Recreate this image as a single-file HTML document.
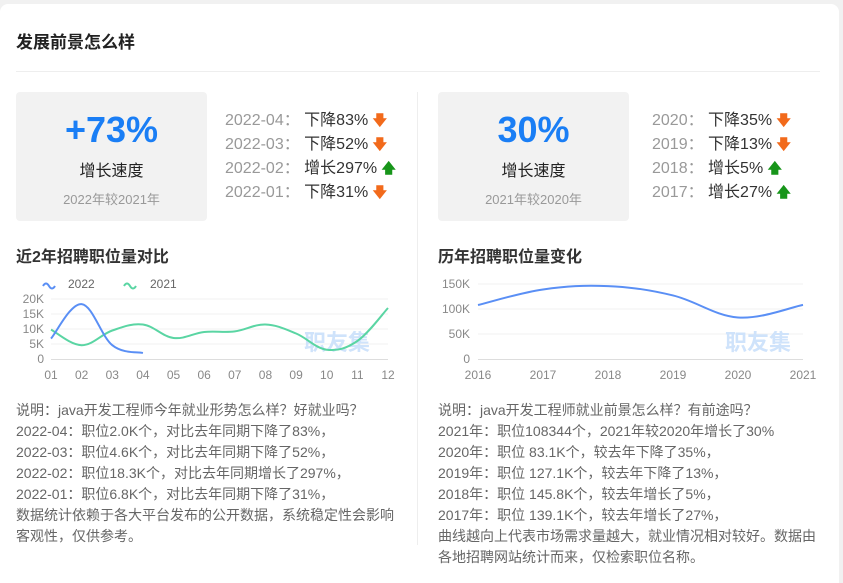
<!DOCTYPE html>
<html><head><meta charset="utf-8"><style>
*{margin:0;padding:0;box-sizing:border-box}
html,body{width:843px;height:583px;overflow:hidden}
body{background:#f1f1f1;font-family:"Liberation Sans","Noto Sans CJK SC",sans-serif;position:relative}
.card{position:absolute;left:0;top:4px;width:839px;height:579px;background:#fff;border-radius:8px 8px 0 0}
.a{position:absolute;white-space:nowrap}
.box{position:absolute;background:#f2f2f2;border-radius:4px;width:191px;height:129px;top:92px;text-align:center}
.big{position:absolute;left:0;right:0;top:18px;font-size:36px;font-weight:bold;color:#1a7ef5;line-height:40px}
.lbl{position:absolute;left:0;right:0;top:70px;font-size:16px;color:#222;line-height:20px}
.sub{position:absolute;left:0;right:0;top:100px;font-size:13px;color:#999;line-height:16px}
.li{position:absolute;font-size:16px;line-height:18px;color:#333;white-space:nowrap}
.li span{color:#999}
.dn{color:#f26a1b;font-weight:bold;font-size:14px}.up{color:#17951a;font-weight:bold;font-size:14px}
.h{position:absolute;font-size:16px;font-weight:bold;color:#333}
.desc{position:absolute;font-size:14px;color:#666;line-height:21px}
</style></head><body>
<div class="card"></div>
<div class="a" style="left:16px;top:28px;font-size:17px;font-weight:bold;color:#222">发展前景怎么样</div>
<div class="a" style="left:16px;top:71px;width:804px;height:1px;background:#eee"></div>
<div class="a" style="left:417px;top:92px;width:1px;height:453px;background:#eee"></div>

<div class="box" style="left:16px"><div class="big">+73%</div><div class="lbl">增长速度</div><div class="sub">2022年较2021年</div></div>
<div class="li" style="left:225px;top:111px"><span>2022-04： </span>下降83% <b class="dn">🡇</b></div>
<div class="li" style="left:225px;top:135px"><span>2022-03： </span>下降52% <b class="dn">🡇</b></div>
<div class="li" style="left:225px;top:159px"><span>2022-02： </span>增长297% <b class="up">🡅</b></div>
<div class="li" style="left:225px;top:183px"><span>2022-01： </span>下降31% <b class="dn">🡇</b></div>

<div class="box" style="left:438px"><div class="big">30%</div><div class="lbl">增长速度</div><div class="sub">2021年较2020年</div></div>
<div class="li" style="left:652px;top:111px"><span>2020： </span>下降35% <b class="dn">🡇</b></div>
<div class="li" style="left:652px;top:135px"><span>2019： </span>下降13% <b class="dn">🡇</b></div>
<div class="li" style="left:652px;top:159px"><span>2018： </span>增长5% <b class="up">🡅</b></div>
<div class="li" style="left:652px;top:183px"><span>2017： </span>增长27% <b class="up">🡅</b></div>

<div class="h" style="left:16px;top:243px">近2年招聘职位量对比</div>
<div class="h" style="left:438px;top:243px">历年招聘职位量变化</div>

<svg class="a" style="left:0;top:0" width="843" height="583" font-family="Liberation Sans, sans-serif">
<g stroke="#f0f0f0"><line x1="51" x2="388" y1="299" y2="299"/><line x1="51" x2="388" y1="314" y2="314"/><line x1="51" x2="388" y1="329" y2="329"/><line x1="51" x2="388" y1="344" y2="344"/>
<line x1="478" x2="803" y1="284" y2="284"/><line x1="478" x2="803" y1="309" y2="309"/><line x1="478" x2="803" y1="334" y2="334"/></g>
<g stroke="#ddd"><line x1="51" x2="388" y1="359.5" y2="359.5"/><line x1="478" x2="803" y1="359.5" y2="359.5"/></g>
<g font-size="12" fill="#888" text-anchor="end"><text x="44" y="303">20K</text><text x="44" y="318">15K</text><text x="44" y="333">10K</text><text x="44" y="348">5K</text><text x="44" y="363">0</text>
<text x="470" y="288">150K</text><text x="470" y="313">100K</text><text x="470" y="338">50K</text><text x="470" y="363">0</text></g>
<g font-size="12" fill="#888" text-anchor="middle" id="xl"></g>
<g font-size="22" font-weight="bold" fill="#cfe3fb" font-family="Noto Sans CJK SC, sans-serif"><text x="304" y="350">职友集</text><text x="725" y="350">职友集</text></g>
<path id="p21" fill="none" stroke="#5ad5a3" stroke-width="2"/>
<path id="p22" fill="none" stroke="#5a8ff5" stroke-width="2"/>
<path id="pr" fill="none" stroke="#5a8ff5" stroke-width="2"/>
<path d="M43 286 q3 -5 6 0 t6 0" fill="none" stroke="#5a8ff5" stroke-width="2"/>
<path d="M124 286 q3 -5 6 0 t6 0" fill="none" stroke="#5ad5a3" stroke-width="2"/>
<g font-size="12" fill="#666"><text x="68" y="288">2022</text><text x="150" y="288">2021</text></g>
</svg>

<div class="desc" style="left:16px;top:400px">说明：java开发工程师今年就业形势怎么样？好就业吗？<br>2022-04：职位2.0K个，对比去年同期下降了83%，<br>2022-03：职位4.6K个，对比去年同期下降了52%，<br>2022-02：职位18.3K个，对比去年同期增长了297%，<br>2022-01：职位6.8K个，对比去年同期下降了31%，<br>数据统计依赖于各大平台发布的公开数据，系统稳定性会影响<br>客观性，仅供参考。</div>
<div class="desc" style="left:438px;top:400px">说明：java开发工程师就业前景怎么样？有前途吗？<br>2021年：职位108344个，2021年较2020年增长了30%<br>2020年：职位 83.1K个，较去年下降了35%，<br>2019年：职位 127.1K个，较去年下降了13%，<br>2018年：职位 145.8K个，较去年增长了5%，<br>2017年：职位 139.1K个，较去年增长了27%，<br>曲线越向上代表市场需求量越大，就业情况相对较好。数据由<br>各地招聘网站统计而来，仅检索职位名称。</div>
<script>
function path(pts){var d="M"+pts[0][0]+" "+pts[0][1];for(var i=0;i<pts.length-1;i++){var p0=pts[i-1]||pts[i],p1=pts[i],p2=pts[i+1],p3=pts[i+2]||p2;var t=0.18;
d+=" C"+(p1[0]+(p2[0]-p0[0])*t)+" "+(p1[1]+(p2[1]-p0[1])*t)+" "+(p2[0]-(p3[0]-p1[0])*t)+" "+(p2[1]-(p3[1]-p1[1])*t)+" "+p2[0]+" "+p2[1];}return d;}
var sx=function(i){return 51+i*(337/11)},sy=function(v){return 359-v*3};
var a=[9.8,4.6,9.5,11.5,7,9,9.2,11.5,8.5,3.1,6,17].map(function(v,i){return[sx(i),sy(v)]});
var b=[6.8,18.3,4.6,2.0].map(function(v,i){return[sx(i),sy(v)]});
document.getElementById("p21").setAttribute("d",path(a));
document.getElementById("p22").setAttribute("d",path(b));
var r=[108,139.1,145.8,127.1,83.1,108.3].map(function(v,i){return[478+i*65,359-v*0.5]});
document.getElementById("pr").setAttribute("d",path(r));
var g=document.getElementById("xl"),s="";
for(var i=0;i<12;i++)s+='<text x="'+sx(i)+'" y="379">'+(i<9?"0":"")+(i+1)+'</text>';
for(var i=0;i<6;i++)s+='<text x="'+(478+i*65)+'" y="379">'+(2016+i)+'</text>';
g.innerHTML=s;
</script>
</body></html>
